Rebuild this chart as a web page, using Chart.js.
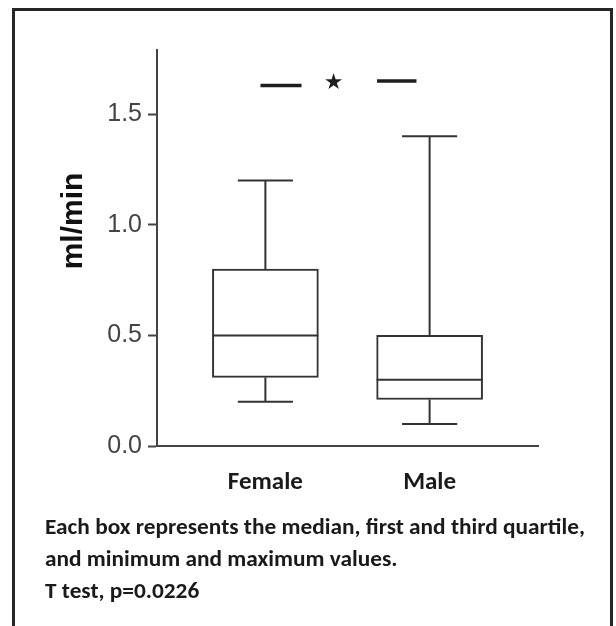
<!DOCTYPE html>
<html><head><meta charset="utf-8">
<script src="https://cdn.jsdelivr.net/npm/chart.js@4"></script>
<style>
html,body{margin:0;padding:0;background:#fff;}
#frame{position:absolute;left:12px;top:8px;width:601px;height:700px;box-sizing:border-box;border:3px solid #262626;}
#wrap{position:absolute;left:0;top:0;width:616px;height:626px;}
</style></head><body>
<div id="frame"></div>
<div id="wrap"><canvas id="c" width="616" height="626"></canvas></div>
<script>
const categories = ['Female', 'Male'];
const minValues = [0.2, 0.1];
const q1Values = [0.31, 0.21];
const medianValues = [0.5, 0.3];
const q3Values = [0.8, 0.5];
const maxValues = [1.2, 1.4];
const yTickValues = [0, 0.5, 1.0, 1.5];
const yTickLabels = ['0.0', '0.5', '1.0', '1.5'];
const yTitle = 'ml/min';
const significanceMark = '\u2605';
const significanceLevels = [1.63, 1.65];
const noteLines = [
  'Each box represents the median, first and third quartile,',
  'and minimum and maximum values.',
  'T test, p=0.0226'
];

const boxData = categories.map((c, i) => ({x: i, y: [q1Values[i], q3Values[i]]}));
const lineColor = '#333';
const noteFont = 'Carlito, Calibri, Lato, "Open Sans", sans-serif';
const axisFont = '"Liberation Sans", Arial, sans-serif';

const boxPlugin = {
  id: 'boxplot',
  afterDatasetsDraw(chart) {
    const ctx = chart.ctx, xs = chart.scales.x, ys = chart.scales.y;
    const meta = chart.getDatasetMeta(0);
    ctx.save();
    ctx.strokeStyle = lineColor;
    ctx.lineWidth = 2;
    ctx.lineCap = 'butt';
    categories.forEach((c, i) => {
      const cx = xs.getPixelForValue(i);
      const bw = meta.data[i].width;
      const capHalf = bw * 0.26;
      const yMed = ys.getPixelForValue(medianValues[i]);
      const yQ1 = ys.getPixelForValue(q1Values[i]);
      const yQ3 = ys.getPixelForValue(q3Values[i]);
      const yMin = ys.getPixelForValue(minValues[i]);
      const yMax = ys.getPixelForValue(maxValues[i]);
      ctx.beginPath();
      ctx.moveTo(cx - bw / 2, yMed); ctx.lineTo(cx + bw / 2, yMed);
      ctx.moveTo(cx, yQ3); ctx.lineTo(cx, yMax);
      ctx.moveTo(cx - capHalf, yMax); ctx.lineTo(cx + capHalf, yMax);
      ctx.moveTo(cx, yQ1); ctx.lineTo(cx, yMin);
      ctx.moveTo(cx - capHalf, yMin); ctx.lineTo(cx + capHalf, yMin);
      ctx.stroke();
    });
    // significance bars
    ctx.strokeStyle = '#1e1e1e';
    ctx.lineWidth = 3.5;
    ctx.beginPath();
    let y1 = ys.getPixelForValue(significanceLevels[0]);
    ctx.moveTo(xs.getPixelForValue(-0.03), y1); ctx.lineTo(xs.getPixelForValue(0.22), y1);
    let y2 = ys.getPixelForValue(significanceLevels[1]);
    ctx.moveTo(xs.getPixelForValue(0.68), y2); ctx.lineTo(xs.getPixelForValue(0.92), y2);
    ctx.stroke();
    ctx.fillStyle = '#1e1e1e';
    ctx.font = '22px "DejaVu Sans"';
    ctx.textAlign = 'center';
    ctx.textBaseline = 'middle';
    ctx.fillText(significanceMark, xs.getPixelForValue(0.415), (y1 + y2) / 2);
    ctx.restore();
  },
  afterDraw(chart) {
    const ctx = chart.ctx;
    ctx.save();
    // y axis title
    ctx.fillStyle = '#111';
    ctx.font = 'bold 30px ' + axisFont;
    ctx.textAlign = 'center';
    ctx.textBaseline = 'middle';
    ctx.save();
    ctx.translate(74, 221);
    ctx.rotate(-Math.PI / 2);
    ctx.fillText(yTitle, 0, 0);
    ctx.restore();
    // notes
    ctx.fillStyle = '#1a1a1a';
    ctx.font = 'bold 23px ' + noteFont;
    ctx.textAlign = 'left';
    const w = ctx.measureText(noteLines[0]).width;
    const sx = 540 / w;
    const ys = [528, 560, 592];
    noteLines.forEach((t, i) => {
      ctx.save();
      ctx.translate(45, ys[i]);
      ctx.scale(sx, 1);
      ctx.fillText(t, 0, 0);
      ctx.restore();
    });
    ctx.restore();
  }
};

new Chart(document.getElementById('c'), {
  type: 'bar',
  data: {
    datasets: [{
      data: boxData,
      backgroundColor: '#ffffff',
      borderColor: lineColor,
      borderWidth: 2,
      borderSkipped: false,
      barThickness: 106
    }]
  },
  options: {
    responsive: false,
    animation: false,
    devicePixelRatio: 1,
    layout: {padding: {left: 0, top: 50, right: 78, bottom: 130}},
    plugins: {legend: {display: false}, tooltip: {enabled: false}},
    scales: {
      x: {
        type: 'linear', min: -0.66, max: 1.66, offset: false,
        grid: {display: false},
        border: {display: true, color: '#444', width: 2},
        afterBuildTicks: s => { s.ticks = categories.map((c, i) => ({value: i})); },
        ticks: {
          callback: (v, i) => categories[i],
          font: {family: noteFont, size: 25, weight: 'bold'},
          color: '#1a1a1a', padding: 14, maxRotation: 0, autoSkip: false
        },
        afterFit: s => { s.height = 50; }
      },
      y: {
        min: 0, max: 1.79,
        afterBuildTicks: s => { s.ticks = yTickValues.map(v => ({value: v})); },
        ticks: {
          callback: (v, i) => yTickLabels[i],
          font: {family: axisFont, size: 25},
          color: '#444', padding: 6
        },
        grid: {drawOnChartArea: false, drawTicks: true, tickLength: 9, tickWidth: 2, tickColor: '#444'},
        border: {display: true, color: '#444', width: 2},
        title: {display: false},
        afterFit: s => { s.width = 157; }
      }
    }
  },
  plugins: [boxPlugin]
});
</script>
</body></html>
